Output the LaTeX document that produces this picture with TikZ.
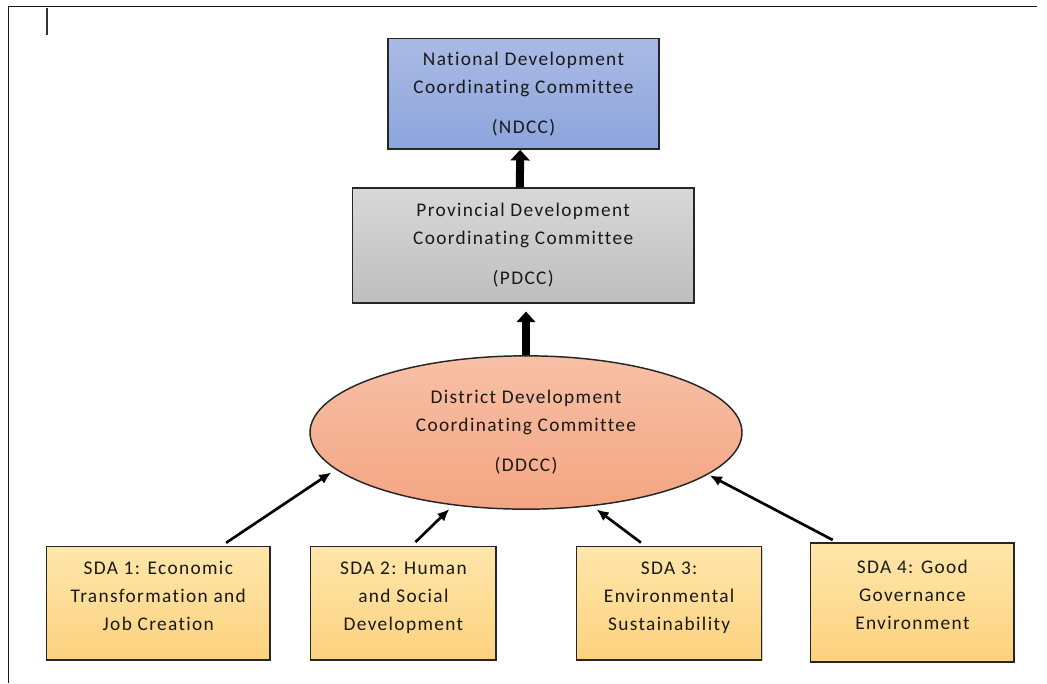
\documentclass[tikz,border=0pt]{standalone}
\usepackage{fontspec}
\setmainfont{Carlito}[LetterSpace=7,Ligatures=NoCommon]
\usetikzlibrary{arrows,arrows.meta,shapes.geometric,shadows}

\definecolor{ndcctop}{HTML}{AABAE5}
\definecolor{ndccbot}{HTML}{8CA5DC}
\definecolor{pdcctop}{HTML}{D8D8D8}
\definecolor{pdccbot}{HTML}{BEBEBE}
\definecolor{ddcctop}{HTML}{F7C0A6}
\definecolor{ddccbot}{HTML}{F4A582}
\definecolor{sdatop}{HTML}{FEE6AA}
\definecolor{sdabot}{HTML}{FDD27E}

\begin{document}
\begin{tikzpicture}[x=0.75pt,y=-0.75pt,thick,>=latex',
    every node/.style={align=center,text=black!90,font=\fontsize{14.5}{21}\selectfont},
    level/.style={draw=black!85,line width=1.1pt,inner sep=0pt},
    boxed/.style={level,drop shadow={shadow xshift=0.8pt,shadow yshift=-0.8pt,opacity=0.35}},
    sda/.style={boxed,top color=sdatop,bottom color=sdabot,text depth=11pt,
      minimum height=85pt},
    up/.style={line width=2pt,-{Latex[length=9pt,width=8pt]},shorten <=4pt,shorten >=4pt},
    bigup/.style={line width=6pt,-{Triangle[width=14pt,length=8pt]}}]
  \useasboundingbox (0,0) rectangle (1047,683);
  % page edge and cursor
  \draw[line width=1.1pt,black!90] (1037,6.5) -- (8.5,6.5) -- (8.5,683);
  \draw[line width=1.5pt,black!80] (47,8) -- (47,35);

  \node (NDCC) [boxed,top color=ndcctop,bottom color=ndccbot,
    minimum width=203pt,minimum height=83pt] at (523.5,93.7)
    {National Development\\Coordinating Committee\\[9pt](NDCC)};
  \node (PDCC) [boxed,top color=pdcctop,bottom color=pdccbot,
    minimum width=256pt,minimum height=86pt] at (523.2,245.5)
    {Provincial Development\\Coordinating Committee\\[9pt](PDCC)};
  \node (DDCC) [level,ellipse,top color=ddcctop,bottom color=ddccbot,
    minimum width=324pt,minimum height=115pt] at (526,432.5)
    {District Development\\Coordinating Committee\\[9pt](DDCC)};

  \node (SDA1) [sda,minimum width=167.5pt] at (158.3,603.2)
    {SDA 1: Economic\\Transformation and\\Job Creation};
  \node (SDA2) [sda,minimum width=139pt] at (403.4,603.2)
    {SDA 2: Human\\and Social\\Development};
  \node (SDA3) [sda,minimum width=138.8pt] at (669.2,603.2)
    {SDA 3:\\Environmental\\Sustainability};
  \node (SDA4) [sda,minimum width=152.5pt,minimum height=89pt] at (912.4,602.5)
    {SDA 4: Good\\Governance\\Environment};

  \draw[bigup] ([xshift=-2.5pt]PDCC.north) -- ([xshift=-2.5pt]NDCC.south);
  \draw[bigup,shorten >=6pt] (DDCC.north) -- (DDCC.north |- PDCC.south);

  \draw[up] ([xshift=47.5pt]SDA1.north) -- (DDCC.191.4);
  \draw[up] ([xshift=6.2pt]SDA2.north) -- (DDCC.225);
  \draw[up] ([xshift=-18pt]SDA3.north) -- (DDCC.312);
  \draw[up,shorten >=1.5pt] ([xshift=-56.2pt]SDA4.north) -- (DDCC.347.5);
\end{tikzpicture}
\end{document}
